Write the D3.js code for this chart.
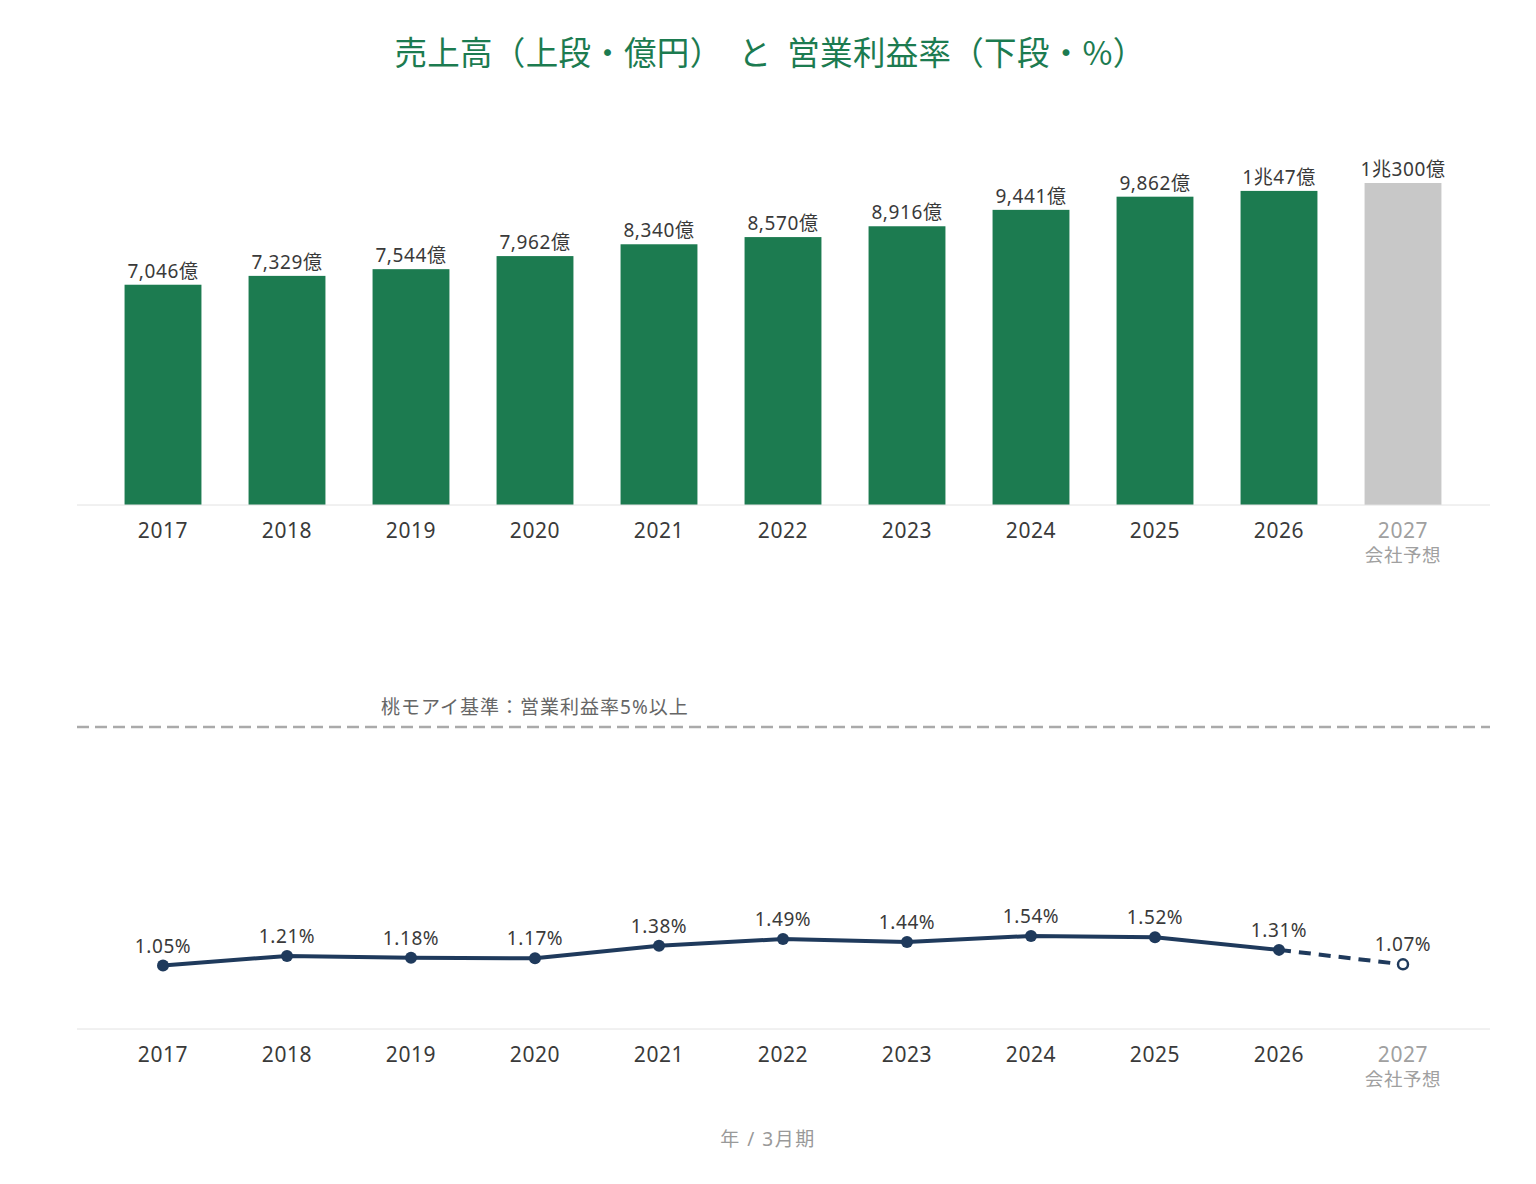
<!DOCTYPE html>
<html>
<head>
<meta charset="utf-8">
<script src="https://cdn.jsdelivr.net/npm/d3@7"></script>
<style>
  body { margin: 0; background: #fff; font-family: "Noto Sans", "Noto Sans CJK JP", sans-serif; }
  text { letter-spacing: 0.6px; }
</style>
</head>
<body>
<script>
const years = ['2017', '2018', '2019', '2020', '2021', '2022', '2023', '2024', '2025', '2026', '2027']
const sales = [7046, 7329, 7544, 7962, 8340, 8570, 8916, 9441, 9862, 10047, 10300]
const salesLabels = ['7,046億', '7,329億', '7,544億', '7,962億', '8,340億', '8,570億', '8,916億', '9,441億', '9,862億', '1兆47億', '1兆300億']
const margins = [1.05, 1.21, 1.18, 1.17, 1.38, 1.49, 1.44, 1.54, 1.52, 1.31, 1.07]
const forecastYear = '2027'
const forecastNote = '会社予想'
const benchmark = 5

const width = 1536
const height = 1184
const green = '#1c7b50'
const navy = '#1f3a5c'
const textColor = '#3a3a3a'

const svg = d3.select('body').append('svg')
  .attr('width', width)
  .attr('height', height)

const title = svg.append('text')
  .attr('x', 770)
  .attr('y', 65)
  .attr('text-anchor', 'middle')
  .attr('font-size', 32.5)
  .attr('fill', green)
  .attr('font-family', '"Noto Sans CJK JP", sans-serif')
  .style('letter-spacing', '0.3px')
title.append('tspan').text('売上高（上段・億円）')
title.append('tspan').attr('dx', 16).text('と')
title.append('tspan').attr('dx', 16).text('営業利益率（下段・%）')

const x = d3.scaleBand()
  .domain(years)
  .range([101, 1465])
  .paddingInner(0.38)
  .paddingOuter(0.19)

const cx = (d) => x(d) + x.bandwidth() / 2

// ---- top: sales bars
const yBar = d3.scaleLinear().domain([0, 10300]).range([505, 183])
const salesData = years.map((y, i) => ({ year: y, value: sales[i], label: salesLabels[i] }))

function drawAxis(baseY) {
  svg.append('line')
    .attr('x1', 77).attr('x2', 1490)
    .attr('y1', baseY).attr('y2', baseY)
    .attr('stroke', '#e2e2e2').attr('stroke-width', 1)
  const g = svg.append('g')
  g.selectAll('text.year')
    .data(years)
    .enter()
    .append('text')
    .attr('class', 'year')
    .attr('x', (d) => cx(d))
    .attr('y', baseY + 33)
    .attr('text-anchor', 'middle')
    .attr('font-size', 21)
    .attr('fill', (d) => d === forecastYear ? '#a0a0a0' : textColor)
    .text((d) => d)
  g.append('text')
    .attr('x', cx(forecastYear))
    .attr('y', baseY + 57)
    .attr('text-anchor', 'middle')
    .attr('font-size', 18.5)
    .attr('fill', '#a0a0a0')
    .text(forecastNote)
}

svg.selectAll('rect.bar')
  .data(salesData)
  .enter()
  .append('rect')
  .attr('class', 'bar')
  .attr('x', (d) => x(d.year))
  .attr('y', (d) => yBar(d.value))
  .attr('width', x.bandwidth())
  .attr('height', (d) => yBar(0) - yBar(d.value))
  .attr('fill', (d) => d.year === forecastYear ? '#c8c8c8' : green)

svg.selectAll('text.barlabel')
  .data(salesData)
  .enter()
  .append('text')
  .attr('class', 'barlabel')
  .attr('x', (d) => cx(d.year))
  .attr('y', (d) => yBar(d.value) - 7)
  .attr('text-anchor', 'middle')
  .attr('font-size', 19)
  .attr('fill', textColor)
  .text((d) => d.label)

drawAxis(505)

// ---- bottom: operating margin line
const yLine = d3.scaleLinear().domain([0, benchmark]).range([1029, 727])
const marginData = years.map((y, i) => ({ year: y, value: margins[i] }))

svg.append('line')
  .attr('x1', 77).attr('x2', 1490)
  .attr('y1', yLine(benchmark)).attr('y2', yLine(benchmark))
  .attr('stroke', '#aaa').attr('stroke-width', 2.5)
  .attr('stroke-dasharray', '12,6')

svg.append('text')
  .attr('x', 381)
  .attr('y', yLine(benchmark) - 13)
  .attr('font-size', 19)
  .attr('fill', '#666')
  .style('letter-spacing', '1px')
  .text('桃モアイ基準：営業利益率5%以上')

drawAxis(1029)

const line = d3.line().x((d) => cx(d.year)).y((d) => yLine(d.value))
const actual = marginData.filter((d) => d.year !== forecastYear)
const forecast = marginData.slice(-2)

svg.append('path')
  .datum(actual)
  .attr('d', line)
  .attr('fill', 'none')
  .attr('stroke', navy)
  .attr('stroke-width', 4)
  .attr('stroke-linejoin', 'round')

svg.append('path')
  .datum(forecast)
  .attr('d', line)
  .attr('fill', 'none')
  .attr('stroke', navy)
  .attr('stroke-width', 4)
  .attr('stroke-dasharray', '12,8')

svg.selectAll('circle.pt')
  .data(marginData)
  .enter()
  .append('circle')
  .attr('class', 'pt')
  .attr('cx', (d) => cx(d.year))
  .attr('cy', (d) => yLine(d.value))
  .attr('r', (d) => d.year === forecastYear ? 5 : 6)
  .attr('fill', (d) => d.year === forecastYear ? '#fff' : navy)
  .attr('stroke', navy)
  .attr('stroke-width', (d) => d.year === forecastYear ? 2.5 : 0)

svg.selectAll('text.ptlabel')
  .data(marginData)
  .enter()
  .append('text')
  .attr('class', 'ptlabel')
  .attr('x', (d) => cx(d.year))
  .attr('y', (d) => yLine(d.value) - 13)
  .attr('text-anchor', 'middle')
  .attr('font-size', 19)
  .attr('fill', textColor)
  .text((d) => d.value.toFixed(2) + '%')

svg.append('text')
  .attr('x', 768)
  .attr('y', 1146)
  .attr('text-anchor', 'middle')
  .attr('font-size', 19)
  .attr('fill', '#999')
  .style('letter-spacing', '1.5px')
  .text('年 / 3月期')
</script>
</body>
</html>
